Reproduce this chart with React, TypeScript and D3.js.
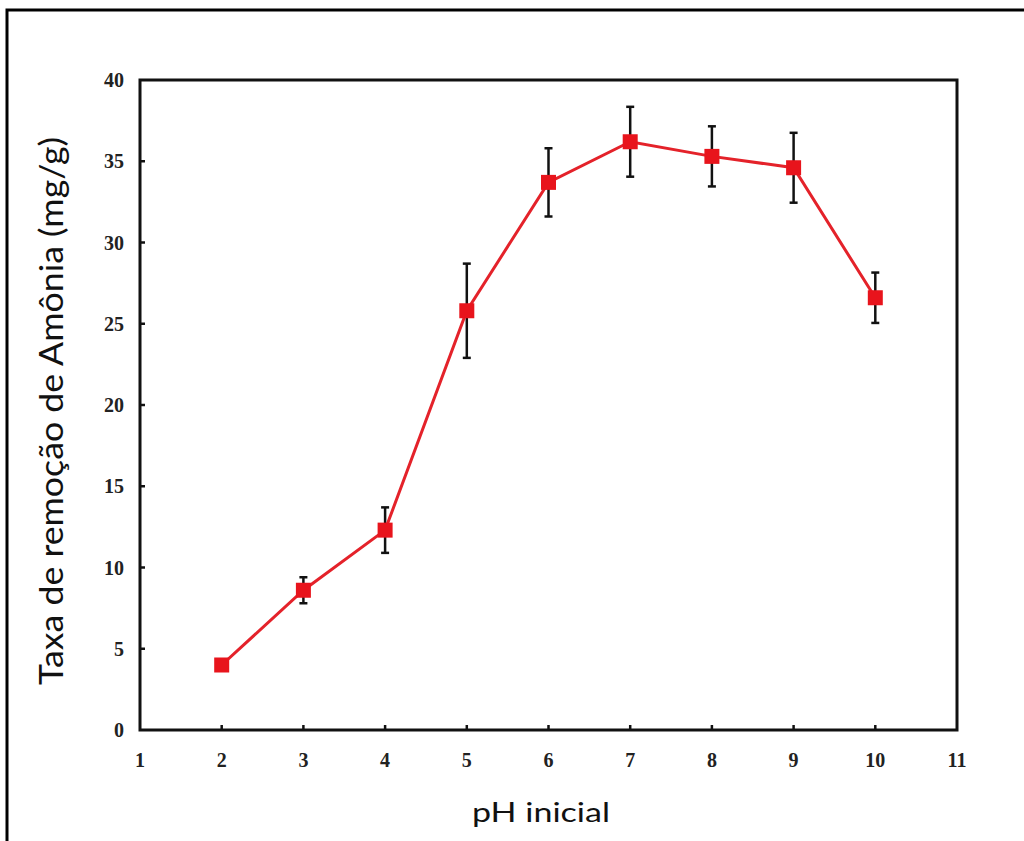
import * as d3 from 'd3'
import { useEffect, useRef } from 'react'

// pH inicial vs. taxa de remoção
const phValues = [2, 3, 4, 5, 6, 7, 8, 9, 10]
const removal = [4.0, 8.6, 12.3, 25.8, 33.7, 36.2, 35.3, 34.6, 26.6]
const errors = [0, 0.8, 1.4, 2.9, 2.1, 2.15, 1.85, 2.15, 1.55]
const xTicks = [1, 2, 3, 4, 5, 6, 7, 8, 9, 10, 11]
const yTicks = [0, 5, 10, 15, 20, 25, 30, 35, 40]

export default function App() {
    const svgRef = useRef<SVGSVGElement>(null)
    const width = 1024, height = 841
    const left = 140, right = 957, top = 80, bottom = 730

    useEffect(() => {
        document.body.style.margin = '0'
        const svg = d3.select(svgRef.current)
        svg.selectAll('*').remove()

        const x = d3.scaleLinear().domain([1, 11]).range([left, right])
        const y = d3.scaleLinear().domain([0, 40]).range([bottom, top])

        // outer frame
        svg.append('path')
            .attr('d', `M7,${height + 5} V10 H${width + 5}`)
            .attr('fill', 'none')
            .attr('stroke', '#000')
            .attr('stroke-width', 3)

        // plot box
        svg.append('rect')
            .attr('x', left).attr('y', top)
            .attr('width', right - left).attr('height', bottom - top)
            .attr('fill', 'none')
            .attr('stroke', '#111')
            .attr('stroke-width', 3)

        // inward ticks
        svg.append('g').selectAll('line')
            .data(xTicks.slice(1, -1))
            .join('line')
                .attr('x1', d => x(d)).attr('x2', d => x(d))
                .attr('y1', bottom).attr('y2', bottom - 5)
                .attr('stroke', '#111').attr('stroke-width', 2.5)
        svg.append('g').selectAll('line')
            .data(yTicks.slice(1, -1))
            .join('line')
                .attr('x1', left).attr('x2', left + 5)
                .attr('y1', d => y(d)).attr('y2', d => y(d))
                .attr('stroke', '#111').attr('stroke-width', 2.5)

        // tick labels
        svg.append('g').selectAll('text')
            .data(xTicks)
            .join('text')
                .attr('x', d => x(d))
                .attr('y', 767)
                .attr('text-anchor', 'middle')
                .attr('fill', '#222')
                .style('font', 'bold 20px "Liberation Serif", serif')
                .text(d => d)
        svg.append('g').selectAll('text')
            .data(yTicks)
            .join('text')
                .attr('x', 124)
                .attr('y', d => y(d) + 7)
                .attr('text-anchor', 'end')
                .attr('fill', '#222')
                .style('font', 'bold 20px "Liberation Serif", serif')
                .text(d => d)

        // axis titles
        svg.append('text')
            .attr('x', 541).attr('y', 822)
            .attr('text-anchor', 'middle')
            .attr('fill', '#111')
            .attr('textLength', 138)
            .attr('lengthAdjust', 'spacingAndGlyphs')
            .style('font', '27px Lato, "Open Sans", sans-serif')
            .text('pH inicial')
        svg.append('text')
            .attr('transform', 'translate(63,411) rotate(-90)')
            .attr('text-anchor', 'middle')
            .attr('fill', '#111')
            .attr('textLength', 548)
            .attr('lengthAdjust', 'spacingAndGlyphs')
            .style('font', '32px Lato, "Open Sans", sans-serif')
            .text('Taxa de remoção de Amônia (mg/g)')

        // error bars
        const eb = svg.append('g')
            .attr('stroke', '#111').attr('stroke-width', 2.5)
        phValues.forEach((p, i) => {
            if (!errors[i]) return
            const cx = x(p), y0 = y(removal[i] - errors[i]), y1 = y(removal[i] + errors[i])
            eb.append('line').attr('x1', cx).attr('x2', cx).attr('y1', y0).attr('y2', y1)
            eb.append('line').attr('x1', cx - 4).attr('x2', cx + 4).attr('y1', y0).attr('y2', y0)
            eb.append('line').attr('x1', cx - 4).attr('x2', cx + 4).attr('y1', y1).attr('y2', y1)
        })

        // line + markers
        const line = d3.line<number>()
            .x((d, i) => x(phValues[i]))
            .y(d => y(d))
        svg.append('path')
            .datum(removal)
            .attr('d', line)
            .attr('fill', 'none')
            .attr('stroke', '#e4222a')
            .attr('stroke-width', 3)
        svg.append('g').selectAll('rect')
            .data(removal)
            .join('rect')
                .attr('x', (d, i) => x(phValues[i]) - 7.5)
                .attr('y', d => y(d) - 7.5)
                .attr('width', 15).attr('height', 15)
                .attr('fill', '#e8141c')
    }, [])

    return (
        <svg ref={svgRef} width={width} height={height}
            style={{ position: 'absolute', left: 0, top: 0, background: '#fff' }} />
    )
}
